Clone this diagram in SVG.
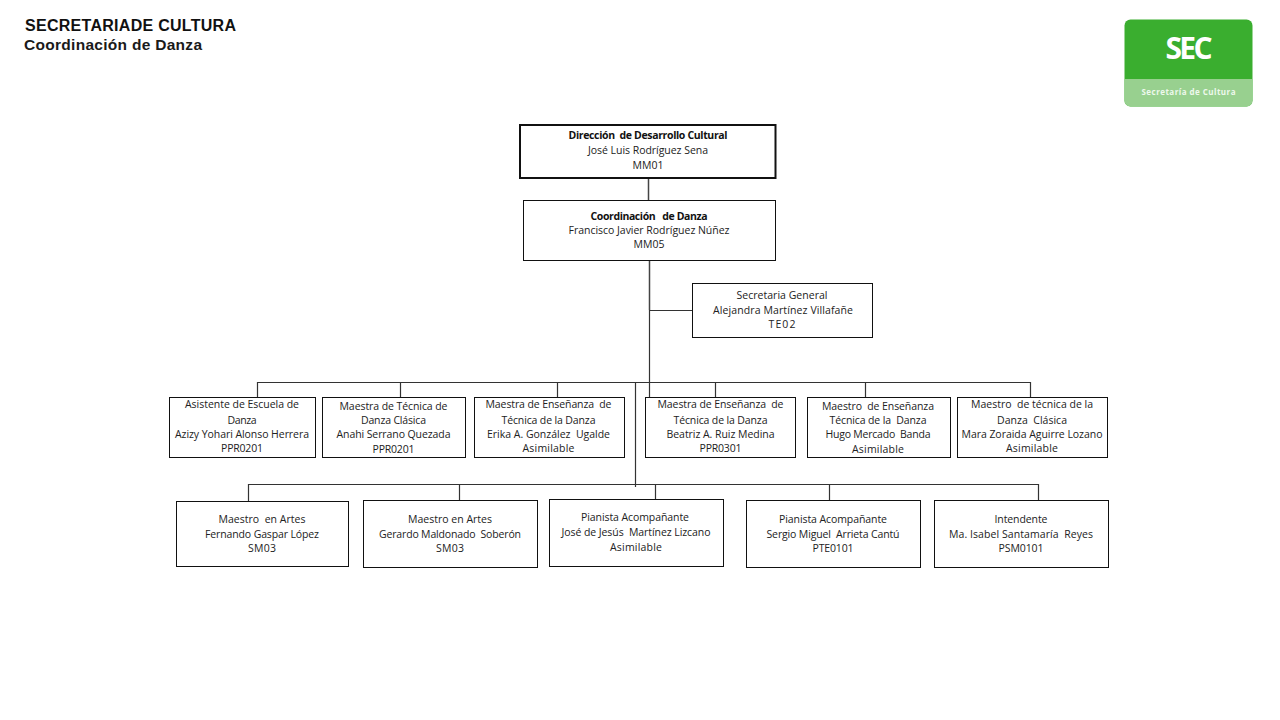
<svg xmlns="http://www.w3.org/2000/svg" width="1280" height="720" viewBox="0 0 1280 720">
<style>
text{font-family:"Open Sans","Noto Sans","DejaVu Sans",sans-serif;font-size:10.5px;fill:#222;text-anchor:middle;white-space:pre}
.b{font-weight:700;fill:#111}
.h{font-family:"Liberation Sans",Arial,sans-serif;font-weight:700;font-size:16px;text-anchor:start;fill:#111}
.h2{font-size:15.5px;fill:#1a1a1a}
.n{fill:#fff;stroke:#111;stroke-width:1}
.c{fill:none;stroke:#333;stroke-width:1.2}
.t{fill:none;stroke:#444;stroke-width:1.5}
</style>
<rect width="1280" height="720" fill="#fff"/>
<text class="h" x="25" y="31" textLength="211">SECRETARIADE CULTURA</text>
<text class="h h2" x="24" y="50" textLength="178">Coordinación de Danza</text>
<g id="logo">
<rect x="1124.500" y="19.500" width="128" height="87" rx="6" fill="#3aae2f"/>
<path d="M1124.500 79H1252.500V100.500a6 6 0 0 1-6 6H1130.500a6 6 0 0 1-6-6Z" fill="#98d08f"/>
<text x="1189" y="59" style="font-size:30px;font-weight:700;fill:#fff" textLength="47">SEC</text>
<text x="1188.500" y="95" style="font-size:8px;font-weight:700;fill:#eef8ec" textLength="94">Secretaría de Cultura</text>
</g>
<g id="connectors">
<path class="t" d="M648.500 178V200M649.500 260V310"/>
<path class="c" d="M649.500 310V397.500M649 310.500H692.500"/>
<path class="c" d="M257.500 397.500V382.500H1030.500V397.500M400.500 382.500V397.500M557.500 382.500V397.500M715.500 382.500V397.500M865.500 382.500V397.500"/>
<path class="c" d="M635.500 382.500V487"/>
<path class="c" d="M248.500 501V484.500H1038.500V500M459.500 484.500V500.500M655.500 484.500V499M829.500 484.500V500"/>
</g>
<g id="n1"><rect x="520" y="125" width="255.500" height="53" fill="#fff" stroke="#111" stroke-width="2"/>
<text class="b" x="648" y="139" textLength="159">Dirección  de Desarrollo Cultural</text><text x="648" y="154" textLength="120">José Luis Rodríguez Sena</text><text x="648" y="169" textLength="31">MM01</text></g>
<g id="n2"><rect class="n" x="523.500" y="200.500" width="252" height="60"/>
<text class="b" x="649" y="220" textLength="117">Coordinación   de Danza</text><text x="649" y="234" textLength="161">Francisco Javier Rodríguez Núñez</text><text x="649" y="248" textLength="31">MM05</text></g>
<g id="n3"><rect class="n" x="692.500" y="283.500" width="180" height="54"/>
<text x="782" y="299" textLength="91">Secretaria General</text><text x="783" y="314" textLength="140">Alejandra Martínez Villafañe</text><text x="782" y="328" textLength="27">TE02</text></g>
<g id="n4"><rect class="n" x="169.500" y="397.500" width="146" height="60"/>
<text x="242" y="408" textLength="114">Asistente de Escuela de</text><text x="242" y="424" textLength="29">Danza</text><text x="242" y="438" textLength="134">Azizy Yohari Alonso Herrera</text><text x="242" y="452" textLength="42">PPR0201</text></g>
<g id="n5"><rect class="n" x="322.500" y="397.500" width="143" height="60"/>
<text x="393.500" y="410" textLength="108">Maestra de Técnica de</text><text x="393.500" y="424" textLength="65">Danza Clásica</text><text x="393.500" y="438" textLength="114">Anahi Serrano Quezada</text><text x="393.500" y="453" textLength="42">PPR0201</text></g>
<g id="n6"><rect class="n" x="474.500" y="397.500" width="150" height="60"/>
<text x="548.500" y="408" textLength="126">Maestra de Enseñanza  de</text><text x="548.500" y="424" textLength="94">Técnica de la Danza</text><text x="548.500" y="438" textLength="123">Erika A. González  Ugalde</text><text x="548.500" y="452" textLength="52">Asimilable</text></g>
<g id="n7"><rect class="n" x="645.500" y="397.500" width="150" height="60"/>
<text x="720.500" y="408" textLength="126">Maestra de Enseñanza  de</text><text x="720.500" y="424" textLength="94">Técnica de la Danza</text><text x="720.500" y="438" textLength="108">Beatriz A. Ruiz Medina</text><text x="720.500" y="452" textLength="42">PPR0301</text></g>
<g id="n8"><rect class="n" x="807.500" y="397.500" width="143" height="60"/>
<text x="878" y="410" textLength="112">Maestro  de Enseñanza</text><text x="878" y="424" textLength="97">Técnica de la  Danza</text><text x="878" y="438" textLength="105">Hugo Mercado  Banda</text><text x="878" y="453" textLength="52">Asimilable</text></g>
<g id="n9"><rect class="n" x="957.500" y="397.500" width="150" height="60"/>
<text x="1032" y="408" textLength="122">Maestro  de técnica de la</text><text x="1032" y="424" textLength="70">Danza  Clásica</text><text x="1032" y="438" textLength="141">Mara Zoraida Aguirre Lozano</text><text x="1032" y="452" textLength="52">Asimilable</text></g>
<g id="n10"><rect class="n" x="176.500" y="501.500" width="172" height="65"/>
<text x="262" y="523" textLength="87">Maestro  en Artes</text><text x="262" y="538" textLength="114">Fernando Gaspar López</text><text x="262" y="552" textLength="28">SM03</text></g>
<g id="n11"><rect class="n" x="363.500" y="500.500" width="174" height="67"/>
<text x="450" y="523" textLength="84">Maestro en Artes</text><text x="450" y="538" textLength="142">Gerardo Maldonado  Soberón</text><text x="450" y="552" textLength="28">SM03</text></g>
<g id="n12"><rect class="n" x="549.500" y="499.500" width="174" height="67"/>
<text x="635" y="521" textLength="108">Pianista Acompañante</text><text x="636" y="536" textLength="149">José de Jesús  Martínez Lizcano</text><text x="636" y="551" textLength="52">Asimilable</text></g>
<g id="n13"><rect class="n" x="746.500" y="500.500" width="174" height="67"/>
<text x="833" y="523" textLength="108">Pianista Acompañante</text><text x="833" y="538" textLength="133">Sergio Miguel  Arrieta Cantú</text><text x="833" y="552" textLength="41">PTE0101</text></g>
<g id="n14"><rect class="n" x="934.500" y="500.500" width="174" height="67"/>
<text x="1021" y="523" textLength="53">Intendente</text><text x="1021" y="538" textLength="144">Ma. Isabel Santamaría  Reyes</text><text x="1021" y="552" textLength="45">PSM0101</text></g>
</svg>
